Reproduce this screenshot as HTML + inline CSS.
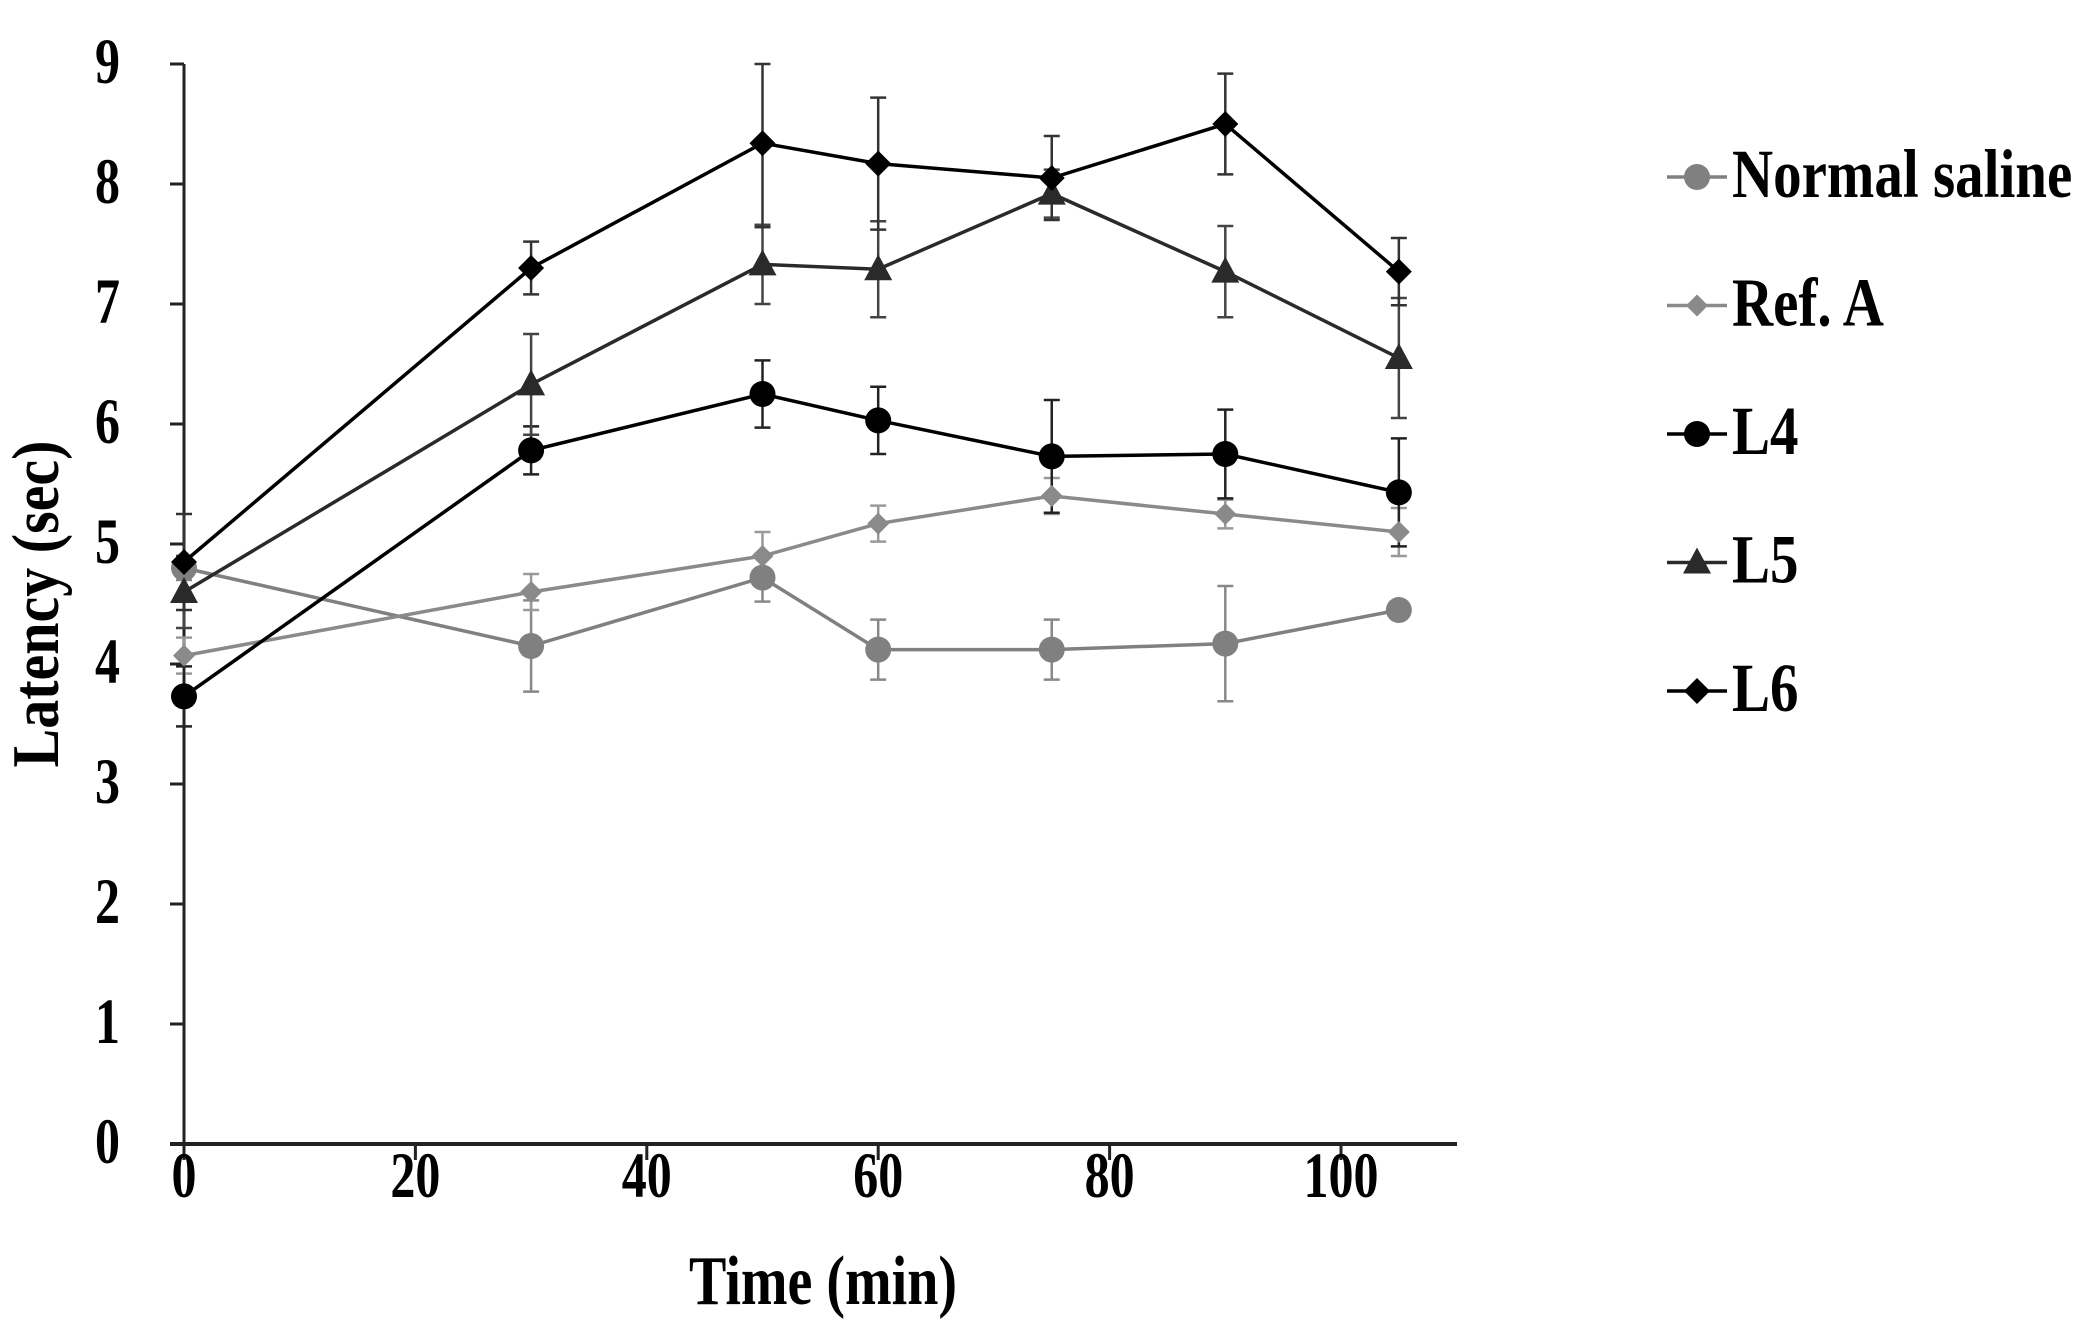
<!DOCTYPE html>
<html><head><meta charset="utf-8"><style>
html,body{margin:0;padding:0;background:#fff;}
svg{display:block;}
text{font-family:"Liberation Serif",serif;font-weight:bold;fill:#000;}
</style></head><body>
<svg id="s" width="2090" height="1337" viewBox="0 0 2090 1337" xmlns="http://www.w3.org/2000/svg">
<g stroke="#222" stroke-width="3" fill="none">
<line x1="184" y1="64" x2="184" y2="1144"/>
<line x1="170" y1="1144" x2="1457" y2="1144" stroke-width="4"/>
</g>
<g id="ax"></g>
<g id="err"></g>
<g id="ser"></g>
<text transform="translate(823,1304) scale(1,1.25)" font-size="56" text-anchor="middle">Time (min)</text>
<text transform="translate(58,604) rotate(-90) scale(1,1.15)" font-size="58" text-anchor="middle">Latency (sec)</text>
<g id="leg"></g>
</svg>
<script>
const NS="http://www.w3.org/2000/svg";
function el(p,t,a,txt){const e=document.createElementNS(NS,t);for(const k in a)e.setAttribute(k,a[k]);if(txt!==undefined)e.textContent=txt;document.getElementById(p).appendChild(e);return e;}
const X=v=>184+v*11.57, Y=v=>1144-v*120;
for(let i=0;i<=9;i++){el('ax','line',{x1:170,y1:Y(i),x2:184,y2:Y(i),stroke:'#222','stroke-width':3});
 el('ax','text',{transform:`translate(120,${Y(i)+19}) scale(1,1.3)`,'font-size':50,'text-anchor':'end'},i);}
for(let i=0;i<=100;i+=20){el('ax','line',{x1:X(i),y1:1144,x2:X(i),y2:1160,stroke:'#222','stroke-width':3});
 el('ax','text',{transform:`translate(${X(i)},1197) scale(1,1.3)`,'font-size':50,'text-anchor':'middle'},i);}
const xs=[0,30,50,60,75,90,105];
const S=[
 {c:'#808080',m:'circle',y:[4.8,4.15,4.72,4.12,4.12,4.17,4.45],e:[0.1,0.38,0.2,0.25,0.25,0.48,0.05],ec:'#888'},
 {c:'#8a8a8a',m:'dsmall',y:[4.07,4.6,4.9,5.17,5.4,5.25,5.1],e:[0.15,0.15,0.2,0.15,0.15,0.12,0.2],ec:'#999'},
 {c:'#000',m:'circle',y:[3.73,5.78,6.25,6.03,5.73,5.75,5.43],e:[0.25,0.2,0.28,0.28,0.47,0.37,0.45],ec:'#222'},
 {c:'#2a2a2a',m:'tri',y:[4.6,6.33,7.33,7.29,7.92,7.27,6.55],e:[0.3,0.42,0.33,0.4,0.2,0.38,0.5],ec:'#444'},
 {c:'#000',m:'diam',y:[4.85,7.3,8.34,8.17,8.05,8.5,7.27],e:[0.4,0.22,0.7,0.55,0.35,0.42,0.28],ec:'#333'}
];
function marker(g,m,x,y,c){
 if(m=='circle')el(g,'circle',{cx:x,cy:y,r:13,fill:c});
 else if(m=='dsmall')el(g,'polygon',{points:`${x},${y-11} ${x+11},${y} ${x},${y+11} ${x-11},${y}`,fill:c});
 else if(m=='diam')el(g,'polygon',{points:`${x},${y-13} ${x+13},${y} ${x},${y+13} ${x-13},${y}`,fill:c});
 else el(g,'polygon',{points:`${x},${y-15} ${x+14},${y+11} ${x-14},${y+11}`,fill:c});
}
S.forEach(s=>{
 xs.forEach((t,i)=>{const x=X(t),a=Y(s.y[i]-s.e[i]),b=Y(Math.min(9,s.y[i]+s.e[i]));
  el('err','line',{x1:x,y1:a,x2:x,y2:b,stroke:s.ec,'stroke-width':2.5});
  el('err','line',{x1:x-8,y1:a,x2:x+8,y2:a,stroke:s.ec,'stroke-width':2.5});
  el('err','line',{x1:x-8,y1:b,x2:x+8,y2:b,stroke:s.ec,'stroke-width':2.5});});
 el('ser','polyline',{points:xs.map((t,i)=>X(t)+','+Y(s.y[i])).join(' '),fill:'none',stroke:s.c,'stroke-width':3.5});
 xs.forEach((t,i)=>marker('ser',s.m,X(t),Y(s.y[i]),s.c));
});
const names=['Normal saline','Ref. A','L4','L5','L6'];
names.forEach((n,i)=>{const y=177+i*128.5,s=S[i];
 el('leg','line',{x1:1667,y1:y,x2:1727,y2:y,stroke:s.c,'stroke-width':3.5});
 marker('leg',s.m,1697,y,s.c);
 el('leg','text',{transform:`translate(1732,${y+20}) scale(1,1.2)`,'font-size':57},n);});
</script>
</body></html>
